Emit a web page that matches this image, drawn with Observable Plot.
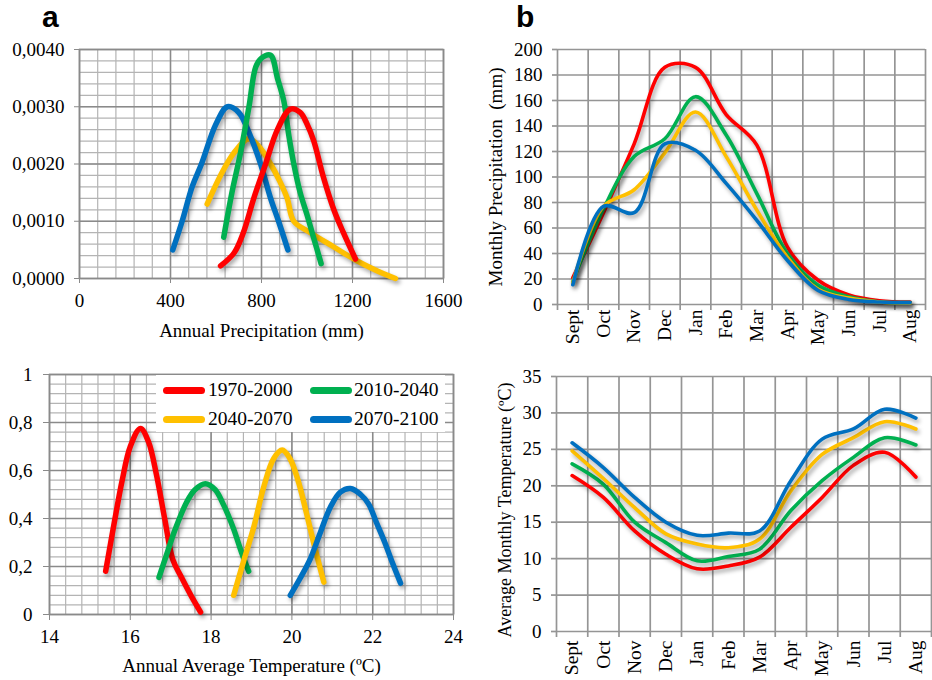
<!DOCTYPE html>
<html><head><meta charset="utf-8">
<script src="https://cdn.jsdelivr.net/npm/d3@7"></script>
<script src="https://cdn.jsdelivr.net/npm/@observablehq/plot@0.6"></script>
<style>
body{margin:0;background:#fff;}
#root{position:relative;width:932px;height:680px;overflow:hidden;font-family:"Liberation Serif",serif;}
.panel{position:absolute;}
.panel svg{overflow:visible;}
.panel svg g[aria-label="line"]{filter:drop-shadow(2px 3px 2px rgba(0,0,0,0.35));}
.tag{position:absolute;font:bold 30px "Liberation Sans",Arial,sans-serif;line-height:1;}
#legend{position:absolute;left:156px;top:375px;width:289px;height:57px;background:#fff;}
.item{position:absolute;font:19.5px "Liberation Serif",serif;line-height:1;}
.sw{position:absolute;width:42px;height:7px;border-radius:4px;}
</style></head>
<body><div id="root">
<div class="tag" style="left:42px;top:2px">a</div>
<div class="tag" style="left:516px;top:2px">b</div>
<div id="pA1" class="panel" style="left:0;top:0"></div>
<div id="pA2" class="panel" style="left:0;top:340px"></div>
<div id="pB1" class="panel" style="left:470px;top:0"></div>
<div id="pB2" class="panel" style="left:470px;top:340px"></div>
<div id="legend"></div>
</div>
<script>
// ---------- data ----------
const periods = ["1970-2000", "2010-2040", "2040-2070", "2070-2100"];
const colors = ["#ff0000", "#00b050", "#ffc000", "#0070c0"];
const months = ["Sept","Oct","Nov","Dec","Jan","Feb","Mar","Apr","May","Jun","Jul","Aug"];

// Panel a (top): annual precipitation (mm) vs probability density
const precip1970 = [[620,0.00022],[680,0.00045],[720,0.0008],[766,0.0014],[818,0.0020],[870,0.0026],[927,0.00296],[970,0.0029],[1000,0.0027],[1030,0.0024],[1070,0.0018],[1118,0.0012],[1160,0.0008],[1213,0.00034]];
const precip2010 = [[634,0.00072],[670,0.0015],[708,0.0022],[745,0.0030],[775,0.0037],[800,0.00385],[840,0.0039],[870,0.0035],[898,0.0031],[920,0.0025],[942,0.0020],[970,0.0015],[1001,0.0011],[1030,0.0007],[1062,0.00026]];
const precip2040 = [[561,0.0013],[620,0.0018],[680,0.0022],[744,0.00244],[790,0.0023],[840,0.0020],[880,0.0017],[913,0.0014],[942,0.0010],[1015,0.0008],[1118,0.00055],[1206,0.00034],[1300,0.00015],[1389,0.0]];
const precip2070 = [[410,0.0005],[451,0.0010],[495,0.0016],[536,0.0020],[600,0.0027],[650,0.0030],[700,0.0029],[750,0.0025],[796,0.0020],[840,0.0014],[875,0.0010],[916,0.0005]];

// Panel a (bottom): annual average temperature (°C) vs probability density
const temp1970 = [[15.39,0.18],[15.6,0.38],[15.8,0.56],[16.0,0.70],[16.25,0.775],[16.45,0.72],[16.65,0.58],[16.85,0.40],[17.05,0.23],[17.25,0.16],[17.5,0.08],[17.74,0.01]];
const temp2010 = [[16.71,0.155],[16.9,0.25],[17.1,0.35],[17.4,0.47],[17.6,0.52],[17.86,0.545],[18.1,0.52],[18.3,0.46],[18.55,0.36],[18.75,0.26],[18.93,0.18]];
const temp2040 = [[18.56,0.08],[18.8,0.22],[19.05,0.36],[19.3,0.53],[19.55,0.65],[19.76,0.685],[19.95,0.65],[20.15,0.56],[20.35,0.43],[20.55,0.29],[20.79,0.135]];
const temp2070 = [[19.96,0.08],[20.2,0.15],[20.45,0.23],[20.7,0.34],[20.96,0.45],[21.2,0.51],[21.45,0.525],[21.7,0.50],[21.9,0.46],[22.1,0.38],[22.3,0.30],[22.5,0.21],[22.69,0.13]];

// Panel b (top): monthly precipitation (mm)
const mprec1970 = [21, 72, 126, 186, 186, 149, 125, 45, 19, 7.5, 3, 2];
const mprec2010 = [18, 75, 116, 130, 163, 133, 87, 40, 15, 6, 2, 1.5];
const mprec2040 = [17, 77, 90, 119, 151, 116, 74, 37, 12, 5, 2, 1];
const mprec2070 = [15.5, 77, 72, 126, 121, 95, 66, 34.5, 11, 4, 2, 1.5];

// Panel b (bottom): average monthly temperature (°C)
const mtemp1970 = [21.4, 18.4, 13.8, 10.6, 8.6, 9.0, 10.2, 14.3, 18.4, 22.8, 24.6, 21.2];
const mtemp2010 = [23.0, 20.2, 15.0, 12.2, 9.7, 10.3, 11.3, 16.6, 20.7, 23.9, 26.6, 25.6];
const mtemp2040 = [24.8, 21.0, 17.0, 13.4, 12.0, 11.5, 12.7, 19.3, 24.3, 26.6, 28.8, 27.8];
const mtemp2070 = [25.9, 22.5, 18.4, 15.0, 13.2, 13.5, 13.8, 20.7, 26.4, 27.8, 30.5, 29.3];

// ticks
const a1XTicks = [0, 400, 800, 1200, 1600];
const a1YTicks = [0, 0.001, 0.002, 0.003, 0.004];
const a2XTicks = [14, 16, 18, 20, 22, 24];
const a2YTicks = [0, 0.2, 0.4, 0.6, 0.8, 1];
const b1YTicks = [0, 20, 40, 60, 80, 100, 120, 140, 160, 180, 200];
const b2YTicks = [0, 5, 10, 15, 20, 25, 30, 35];

// ---------- helpers ----------
const style = {fontFamily: "Liberation Serif", fontSize: "19px", color: "#000", background: "transparent", overflow: "visible"};
const minorC = "#b4b4b4", majorC = "#8a8a8a", gridC = "#959595";
const comma = d => String(d).replace(".", ",");
function pairs(arrs) {
  const rows = [];
  arrs.forEach((a, k) => a.forEach(([x, y]) => rows.push({x, y, p: periods[k]})));
  return rows;
}
function monthly(arrs) {
  const rows = [];
  arrs.forEach((a, k) => a.forEach((v, i) => rows.push({x: i, y: v, p: periods[k]})));
  return rows;
}

// ---------- panel a top ----------
{
  const order = [2, 3, 1, 0];
  const data = pairs([precip1970, precip2010, precip2040, precip2070]);
  const minorX = d3.range(0, 21).map(i => i * 80), minorY = d3.range(0, 21).map(i => i * 0.0002);
  const marks = [
    Plot.ruleX(minorX, {stroke: minorC, strokeWidth: 1.2}),
    Plot.ruleY(minorY, {stroke: minorC, strokeWidth: 1.2}),
    Plot.ruleX(a1XTicks, {stroke: majorC, strokeWidth: 1.5}),
    Plot.ruleY(a1YTicks, {stroke: majorC, strokeWidth: 1.5}),
    Plot.frame({stroke: majorC, strokeWidth: 1.5}),
    Plot.axisX(a1XTicks, {tickSize: 5, tickPadding: 10, stroke: majorC, label: null, tickFormat: d => String(d)}),
    Plot.axisY(a1YTicks, {tickSize: 5, tickPadding: 10, stroke: majorC, label: null, tickFormat: d => d.toFixed(4).replace(".", ",")}),
    Plot.text(["Annual Precipitation (mm)"], {frameAnchor: "bottom", textAnchor: "middle", dy: 52, lineAnchor: "middle", text: d => d})
  ];
  order.forEach(k => marks.push(Plot.line(data.filter(d => d.p === periods[k]), {x: "x", y: "y", stroke: colors[k], strokeWidth: 5.5, curve: "catmull-rom", strokeLinecap: "round"})));
  document.getElementById("pA1").append(Plot.plot({
    width: 470, height: 340, marginLeft: 79, marginRight: 27, marginTop: 49, marginBottom: 62,
    style, x: {domain: [0, 1600], label: null}, y: {domain: [0, 0.004], label: null}, marks
  }));
}

// ---------- panel a bottom ----------
{
  const order = [0, 1, 2, 3];
  const data = pairs([temp1970, temp2010, temp2040, temp2070]);
  const minorX = d3.range(0, 26).map(i => 14 + i * 0.4), minorY = d3.range(0, 26).map(i => i * 0.04);
  const marks = [
    Plot.ruleX(minorX, {stroke: minorC, strokeWidth: 1.2}),
    Plot.ruleY(minorY, {stroke: minorC, strokeWidth: 1.2}),
    Plot.ruleX(a2XTicks, {stroke: majorC, strokeWidth: 1.5}),
    Plot.ruleY(a2YTicks, {stroke: majorC, strokeWidth: 1.5}),
    Plot.frame({stroke: majorC, strokeWidth: 1.5}),
    Plot.axisX(a2XTicks, {tickSize: 6, tickPadding: 9, stroke: majorC, label: null, tickFormat: d => String(d)}),
    Plot.axisY(a2YTicks, {tickSize: 6, tickPadding: 11, stroke: majorC, label: null, tickFormat: comma}),
    Plot.text(["Annual Average Temperature (ºC)"], {frameAnchor: "bottom", textAnchor: "middle", dy: 51, lineAnchor: "middle", text: d => d})
  ];
  order.forEach(k => marks.push(Plot.line(data.filter(d => d.p === periods[k]), {x: "x", y: "y", stroke: colors[k], strokeWidth: 5.5, curve: "catmull-rom", strokeLinecap: "round"})));
  document.getElementById("pA2").append(Plot.plot({
    width: 470, height: 340, marginLeft: 49, marginRight: 17, marginTop: 34, marginBottom: 66,
    style, x: {domain: [14, 24], label: null}, y: {domain: [0, 1], label: null}, marks
  }));
}

// ---------- panel b (shared) ----------
function monthPanel(id, arrs, yTicks, yMax, title, opts) {
  const data = monthly(arrs);
  const bounds = d3.range(0, 13).map(i => i - 0.5);
  const idx = d3.range(0, 12);
  const marks = [
    Plot.ruleX(bounds, {stroke: gridC, strokeWidth: 1.7}),
    Plot.ruleY(yTicks, {stroke: gridC, strokeWidth: 1.7}),
    Plot.axisX(bounds, {tickSize: 6, stroke: gridC, strokeWidth: 1.7, tickFormat: () => "", label: null}),
    Plot.axisX(idx, {tickSize: 0, tickPadding: opts.xPad, tickRotate: -90, fontSize: 19.5, tickFormat: i => months[i], label: null}),
    Plot.axisY(yTicks, {tickSize: 5, tickPadding: 10, stroke: gridC, strokeWidth: 1.7, label: null, tickFormat: d => String(d)}),
    Plot.text([title], {frameAnchor: "left", textAnchor: "middle", dx: opts.titleDx, dy: opts.titleDy, rotate: -90, lineAnchor: "middle", fontSize: opts.titleSize, text: d => d})
  ];
  [0, 1, 2, 3].forEach(k => marks.push(Plot.line(data.filter(d => d.p === periods[k]), {x: "x", y: "y", stroke: colors[k], strokeWidth: 3.6, curve: "catmull-rom", strokeLinecap: "round"})));
  document.getElementById(id).append(Plot.plot({
    width: 462, height: 340, ...opts.margins,
    style, x: {domain: [-0.5, 11.5], label: null}, y: {domain: [0, yMax], label: null}, marks
  }));
}
monthPanel("pB1", [mprec1970, mprec2010, mprec2040, mprec2070], b1YTicks, 200, "Monthly Precipitation  (mm)",
  {margins: {marginLeft: 87, marginRight: 7, marginTop: 49, marginBottom: 36}, xPad: 5, titleDx: -62, titleDy: 0, titleSize: 19});
monthPanel("pB2", [mtemp1970, mtemp2010, mtemp2040, mtemp2070], b2YTicks, 35, "Average Monthly Temperature (ºC)",
  {margins: {marginLeft: 86, marginRight: 1, marginTop: 36, marginBottom: 49}, xPad: 9, titleDx: -51, titleDy: 6, titleSize: 18});

// ---------- legend ----------
{
  const leg = document.getElementById("legend");
  const pos = [[7, 52, 15], [154, 198, 15], [7, 52, 44], [154, 198, 44]];
  periods.forEach((p, k) => {
    const [sx, tx, cy] = pos[k];
    const sw = document.createElement("div");
    sw.className = "sw"; sw.style.left = sx + "px"; sw.style.top = (cy - 3.5) + "px"; sw.style.background = colors[k];
    const t = document.createElement("div");
    t.className = "item"; t.style.left = tx + "px"; t.style.top = (cy - 10) + "px"; t.textContent = p;
    leg.append(sw, t);
  });
}
</script>
</body></html>
